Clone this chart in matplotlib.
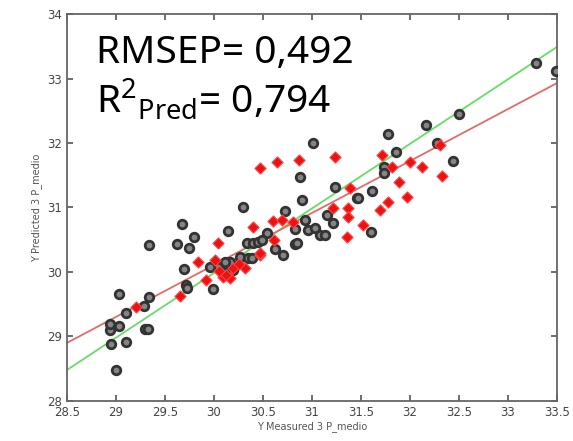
import matplotlib
matplotlib.use("Agg")
import matplotlib.pyplot as plt

# ── Data ──────────────────────────────────────────────
cal_x = [29.0, 28.95, 29.1, 28.94, 29.03, 28.94, 29.1, 29.03, 29.3, 29.33,
         29.29, 29.34, 29.34, 29.67, 29.62, 29.8, 29.74, 29.69, 29.71, 29.72,
         29.99, 30.3, 30.14, 30.7, 30.72, 30.83, 30.83, 30.34, 30.4, 30.45,
         30.54, 30.27, 30.35, 30.16, 30.04, 30.13, 30.19, 31.01, 30.88, 31.23,
         30.9, 31.15, 31.21, 30.93, 30.96, 31.03, 31.08, 31.13, 30.85, 31.46,
         32.5, 32.16, 31.78, 31.86, 32.28, 32.44, 31.73, 31.73, 31.61, 31.47,
         31.6, 33.29, 33.49, 30.49, 30.39, 30.11, 29.96, 30.62]
cal_y = [28.48, 28.88, 28.91, 29.1, 29.16, 29.19, 29.36, 29.66, 29.12, 29.12,
         29.47, 29.61, 30.42, 30.74, 30.43, 30.54, 30.37, 30.05, 29.8, 29.75,
         29.74, 31.01, 30.64, 30.26, 30.95, 30.43, 30.67, 30.45, 30.45, 30.47,
         30.6, 30.23, 30.21, 30.16, 30.08, 30.0, 30.03, 32.0, 31.47, 31.32,
         31.12, 30.88, 30.76, 30.81, 30.65, 30.68, 30.57, 30.57, 30.45, 31.15,
         32.45, 32.28, 32.14, 31.86, 32.0, 31.72, 31.63, 31.53, 31.25, 31.15,
         30.62, 33.24, 33.12, 30.5, 30.22, 30.16, 30.08, 30.35]

val_x = [29.2, 29.65, 29.84, 29.92, 30.04, 30.01, 30.09, 30.16, 30.19, 30.32,
         30.47, 30.4, 30.6, 30.69, 30.61, 30.81, 30.47, 30.64, 30.87, 31.23,
         31.39, 31.21, 31.37, 31.37, 31.36, 30.47, 31.71, 32.31, 32.0, 32.12,
         31.82, 32.33, 31.89, 31.97, 31.78, 31.69, 31.52, 30.12, 30.25, 30.05]
val_y = [29.46, 29.63, 30.16, 29.88, 30.45, 30.19, 29.92, 29.9, 30.06, 30.06,
         30.26, 30.7, 30.79, 30.81, 30.5, 30.78, 31.61, 31.71, 31.74, 31.79,
         31.3, 30.99, 30.99, 30.85, 30.54, 30.3, 31.81, 31.97, 31.71, 31.63,
         31.63, 31.49, 31.4, 31.16, 31.09, 30.96, 30.73, 29.95, 30.12, 30.02]

line_x = [28.5, 33.5]
target_y = [28.48, 33.49]
fit_y = [28.9, 32.93]

x_ticks = [28.5, 29, 29.5, 30, 30.5, 31, 31.5, 32, 32.5, 33, 33.5]
y_ticks = [28, 29, 30, 31, 32, 33, 34]

# ── Plot ───────────────────────────────────────────────
plt.rcParams["mathtext.fontset"] = "custom"
plt.rcParams["mathtext.rm"] = "Noto Sans"

fig = plt.figure(figsize=(5.73, 4.41), dpi=100)
ax = fig.add_axes([0.117, 0.091, 0.855, 0.877])

ax.plot(line_x, target_y, color="#66dd66", linewidth=1.3, zorder=1)
ax.plot(line_x, fit_y, color="#e46a6a", linewidth=1.3, zorder=1)

ax.scatter(cal_x, cal_y, s=38, facecolor="#858585", edgecolor="#333333",
           linewidth=2.0, zorder=3)
ax.scatter(val_x, val_y, marker="D", s=32, facecolor="#ee1111",
           edgecolor="#ff4444", linewidth=0.8, zorder=4)

ax.set_xlim(28.5, 33.5)
ax.set_ylim(28, 34)
ax.set_xticks(x_ticks)
ax.set_xticklabels([f"{t:g}" for t in x_ticks])
ax.set_yticks(y_ticks)
ax.tick_params(direction="in", top=True, right=True, length=4, width=1.2,
               color="#555555", labelsize=8.5, labelcolor="#444444")
for sp in ax.spines.values():
    sp.set_color("#666666")
    sp.set_linewidth(1.3)

ax.set_xlabel("Y Measured 3 P_medio", fontsize=7, color="#555555", labelpad=2)
ax.set_ylabel("Y Predicted 3 P_medio", fontsize=7, color="#555555", labelpad=4)

ax.text(0.059, 0.873, "RMSEP= 0,492", transform=ax.transAxes, fontsize=28,
        family="Noto Sans", va="baseline", color="black")
ax.text(0.059, 0.744, r"R$^{2}{}_{\mathrm{Pred}}$= 0,794", transform=ax.transAxes,
        fontsize=28, family="Noto Sans", va="baseline", color="black")

plt.savefig("out.png", dpi=100)
